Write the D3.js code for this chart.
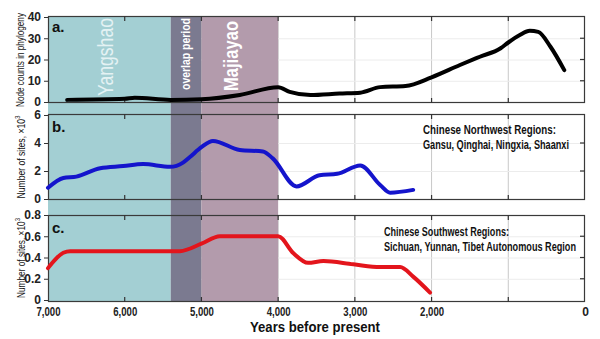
<!DOCTYPE html>
<html>
<head>
<meta charset="utf-8">
<script src="https://cdn.jsdelivr.net/npm/d3@7"></script>
<style>
  body { margin: 0; background: #fff; }
  svg { display: block; }
  text { font-family: 'Liberation Sans', Arial, sans-serif; }
</style>
</head>
<body>
<svg id="chart" width="600" height="339"></svg>
<script>
// years before present
const xTicks = [7000, 6000, 5000, 4000, 3000, 2000, 0];
const xTickLabels = ["7,000", "6,000", "5,000", "4,000", "3,000", "2,000", "0"];

// periods
const periods = [
    { name: "Yangshao", from: 7000, to: 5400 },
    { name: "overlap period", from: 5400, to: 5000 },
    { name: "Majiayao", from: 5000, to: 4000 }
];

// a. node counts in phylogeny
const nodeYears = [6750, 6000, 5870, 5400, 5000, 4500, 4000, 3850, 3580, 3200, 2930, 2670, 2340, 2000, 1630, 1370, 1100, 1000, 850, 720, 610, 450, 270];
const nodeCounts = [1, 1.5, 2, 1, 1.3, 3.3, 7, 4.8, 3.3, 4, 4.4, 7, 7.5, 11.6, 17.4, 21.3, 25.3, 28, 31.5, 33.5, 33, 26, 15];
const nodeTicks = [0, 10, 20, 30, 40];

// b. northwest sites (x10^3)
const nwYears = [7000, 6800, 6630, 6320, 6020, 5760, 5410, 5240, 5150, 5000, 4850, 4500, 4200, 4070, 3760, 3460, 3230, 2930, 2670, 2540, 2240];
const nwSites = [0.8, 1.5, 1.6, 2.2, 2.35, 2.5, 2.3, 2.6, 3.0, 3.7, 4.15, 3.5, 3.4, 2.9, 0.9, 1.7, 1.8, 2.4, 1.0, 0.45, 0.65];
const nwTicks = [0, 2, 4, 6];

// c. southwest sites (x10^3)
const swYears = [7000, 6800, 6710, 5280, 5000, 4760, 4000, 3800, 3610, 3410, 3020, 2670, 2410, 2240, 2020];
const swSites = [0.3, 0.445, 0.46, 0.46, 0.53, 0.6, 0.6, 0.44, 0.35, 0.367, 0.336, 0.31, 0.31, 0.22, 0.07];
const swTicks = [0, 0.2, 0.4, 0.6, 0.8];

const svg = d3.select("#chart");
const left = 48, right = 585;
const plotTop = 16, plotBottom = 302;

const x = d3.scaleLinear().domain([7000, 0]).range([left, right]);

const panels = [
    { key: "a.", top: 16, bottom: 103, ky: 32, y: d3.scaleLinear().domain([0, 40]).range([102, 17]),
      years: nodeYears, vals: nodeCounts, ticks: nodeTicks, color: "#000", fmt: d => d },
    { key: "b.", top: 114, bottom: 200, ky: 132, y: d3.scaleLinear().domain([0, 6]).range([199, 115]),
      years: nwYears, vals: nwSites, ticks: nwTicks, color: "#1414cc", fmt: d => d,
      legend: ["Chinese Northwest Regions:", "Gansu, Qinghai, Ningxia, Shaanxi"], lw: [133, 146], lx: 423, ly: 134 },
    { key: "c.", top: 215, bottom: 302, ky: 233, y: d3.scaleLinear().domain([0, 0.8]).range([300, 215]),
      years: swYears, vals: swSites, ticks: swTicks, color: "#e3151c", fmt: d => d === 0 ? "0" : d3.format(".1f")(d),
      legend: ["Chinese Southwest Regions:", "Sichuan, Yunnan, Tibet Autonomous Region"], lw: [125, 192], lx: 384, ly: 236 }
];

const bandColors = ["#a3cfd3", "#7b7a90", "#b39bac"];

// gridlines inside each panel
panels.forEach(p => {
    const g = svg.append("g");
    g.selectAll(".vgrid").data(d3.range(6000, 0, -1000))
        .enter().append("line")
        .attr("x1", d => x(d)).attr("x2", d => x(d))
        .attr("y1", p.top).attr("y2", p.bottom)
        .attr("stroke", "#c8c8c8").attr("stroke-width", 1);
    g.selectAll(".hgrid").data(p.ticks.slice(1, -1))
        .enter().append("line")
        .attr("x1", left).attr("x2", right)
        .attr("y1", d => p.y(d) + 0.5).attr("y2", d => p.y(d) + 0.5)
        .attr("stroke", "#ececec").attr("stroke-width", 1);
});

// period shading across all panels
svg.selectAll(".band").data(periods)
    .enter().append("rect")
    .attr("x", d => x(d.from))
    .attr("width", d => x(d.to) - x(d.from))
    .attr("y", plotTop).attr("height", plotBottom - plotTop)
    .attr("fill", (d, i) => bandColors[i]);

// period names (rotated, narrow)
const bandText = [
    { size: 22, weight: "normal", fill: "#e4f2f3", bx: 113, cy: 57, len: 78 },
    { size: 13, weight: "bold", fill: "#ffffff", bx: 190, cy: 54, len: 72 },
    { size: 20, weight: "bold", fill: "#ffffff", bx: 238, cy: 56, len: 70 }
];
periods.forEach((d, i) => {
    const s = bandText[i];
    svg.append("text")
        .attr("transform", `translate(${s.bx},${s.cy}) rotate(-90)`)
        .attr("text-anchor", "middle")
        .attr("textLength", s.len).attr("lengthAdjust", "spacingAndGlyphs")
        .style("font-size", s.size + "px")
        .style("font-weight", s.weight)
        .attr("fill", s.fill)
        .text(d.name);
});

panels.forEach(p => {
    const g = svg.append("g");

    // frame
    g.append("rect")
        .attr("x", left + 0.5).attr("y", p.top + 0.5)
        .attr("width", right - left - 1).attr("height", p.bottom - p.top - 1)
        .attr("fill", "none").attr("stroke", "#3a3a3a").attr("stroke-width", 1.2);

    // x ticks inward top and bottom
    g.selectAll(".xt").data(d3.range(6000, 0, -1000))
        .enter().append("path")
        .attr("d", d => `M${x(d)},${p.top}v5M${x(d)},${p.bottom}v-5`)
        .attr("stroke", "#333").attr("stroke-width", 1.2);

    // left axis
    g.append("g")
        .attr("transform", `translate(${left},0)`)
        .call(d3.axisLeft(p.y).tickValues(p.ticks).tickSize(4).tickPadding(3).tickFormat(p.fmt))
        .call(a => a.select(".domain").remove())
        .call(a => a.selectAll("line").attr("stroke", "#333"))
        .call(a => a.selectAll("text").style("font-size", "12px").style("font-weight", "bold")
            .attr("fill", "#222"));

    // right ticks inward
    g.selectAll(".rt").data(p.ticks.slice(1, -1))
        .enter().append("line")
        .attr("x1", right - 5).attr("x2", right)
        .attr("y1", d => p.y(d)).attr("y2", d => p.y(d))
        .attr("stroke", "#333").attr("stroke-width", 1.2);

    // data line
    const line = d3.line()
        .x((d, i) => x(p.years[i]))
        .y(d => p.y(d))
        .curve(d3.curveMonotoneX);
    g.append("path")
        .datum(p.vals)
        .attr("d", line)
        .attr("fill", "none")
        .attr("stroke", p.color)
        .attr("stroke-width", 4)
        .attr("stroke-linecap", "round")
        .attr("stroke-linejoin", "round");

    // panel letter
    g.append("text")
        .attr("x", 52).attr("y", p.ky)
        .style("font-size", "15px").style("font-weight", "bold")
        .attr("fill", "#111")
        .text(p.key);

    if (p.legend) {
        p.legend.forEach((t, i) => {
            g.append("text")
                .attr("x", p.lx).attr("y", p.ly + i * 15)
                .attr("textLength", p.lw[i]).attr("lengthAdjust", "spacingAndGlyphs")
                .style("font-size", "12.5px")
                .attr("fill", "#111")
                .style("font-weight", "bold")
                .text(t);
        });
    }
});

// y axis titles
function yTitle(bx, cy, len, parts) {
    const t = svg.append("text")
        .attr("transform", `translate(${bx},${cy}) rotate(-90)`)
        .attr("text-anchor", "middle")
        .attr("textLength", len).attr("lengthAdjust", "spacingAndGlyphs")
        .style("font-size", "11px")
        .attr("fill", "#111");
    parts.forEach(pt => {
        const s = t.append("tspan").text(pt.text);
        if (pt.sup) s.attr("dy", -5).style("font-size", "8px");
    });
}
yTitle(24, 60, 94, [{ text: "Node counts in phylogeny" }]);
yTitle(25, 157, 83, [{ text: "Number of sites, ×10" }, { text: "3", sup: true }]);
yTitle(25, 258, 80, [{ text: "Number of sites, ×10" }, { text: "3", sup: true }]);

// x axis labels
svg.append("g")
    .attr("transform", `translate(0,${plotBottom})`)
    .call(d3.axisBottom(x).tickValues(xTicks).tickSize(0).tickPadding(5)
        .tickFormat((d, i) => xTickLabels[i]))
    .call(a => a.select(".domain").remove())
    .call(a => a.selectAll("text").style("font-size", "12px").style("font-weight", "bold")
        .attr("fill", "#222")
        .attr("textLength", (d, i) => xTickLabels[i].length > 1 ? 24 : null)
        .attr("lengthAdjust", "spacingAndGlyphs"));

svg.append("text")
    .attr("x", 315).attr("y", 332)
    .attr("text-anchor", "middle")
    .attr("textLength", 130).attr("lengthAdjust", "spacingAndGlyphs")
    .style("font-size", "15px").style("font-weight", "bold")
    .attr("fill", "#111")
    .text("Years before present");
</script>
</body>
</html>
